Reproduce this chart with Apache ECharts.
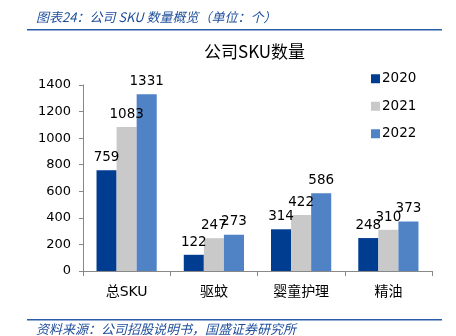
<!DOCTYPE html>
<html>
<head>
<meta charset="utf-8">
<script src="https://cdn.jsdelivr.net/npm/echarts@6/dist/echarts.min.js"></script>
<style>
html,body{margin:0;padding:0;background:#fff;}
#chart{width:456px;height:336px;}
</style>
</head>
<body>
<div id="chart"></div>
<script>
// SKU counts by product line, per year
const categories = ['总SKU', '驱蚊', '婴童护理', '精油'];
const years = ['2020', '2021', '2022'];
const sku2020 = [759, 122, 314, 248];
const sku2021 = [1083, 247, 422, 310];
const sku2022 = [1331, 273, 586, 373];
const yTicks = [0, 200, 400, 600, 800, 1000, 1200, 1400];

const colors = ['#003D91', '#C9C9C9', '#4F83C6'];
const font = '"DejaVu Sans", "Noto Sans CJK SC", sans-serif';
const seriesData = [sku2020, sku2021, sku2022];

const chart = echarts.init(document.getElementById('chart'));
chart.setOption({
  animation: false,
  backgroundColor: '#fff',
  title: {
    text: '公司SKU数量',
    left: 199, top: 38,
    textStyle: { fontSize: 17, fontWeight: 'normal', color: '#000', fontFamily: '"Noto Sans CJK SC", sans-serif' }
  },
  legend: {
    orient: 'vertical',
    left: 366, top: 67,
    itemWidth: 9, itemHeight: 9, itemGap: 14,
    icon: 'rect',
    textStyle: { fontSize: 13.5, color: '#000', fontFamily: font, padding: [0, 0, 0, -3] },
    data: years
  },
  grid: { left: 83, right: 24, top: 85, bottom: 65 },
  xAxis: {
    type: 'category',
    data: categories,
    axisLine: { lineStyle: { color: '#888' } },
    axisTick: { show: true, length: 5, lineStyle: { color: '#888' } },
    axisLabel: { fontSize: 14, color: '#000', margin: 14, fontFamily: font }
  },
  yAxis: {
    type: 'value',
    min: yTicks[0], max: yTicks[yTicks.length - 1], interval: 200,
    splitLine: { show: false },
    axisLine: { show: true, lineStyle: { color: '#888' } },
    axisTick: { show: true, length: 4, lineStyle: { color: '#888' } },
    axisLabel: { fontSize: 13, color: '#000', margin: 12, fontFamily: font, formatter: v => String(v) }
  },
  series: years.map((y, i) => ({
    name: y,
    type: 'bar',
    data: seriesData[i],
    barGap: '0%',
    barCategoryGap: '31%',
    itemStyle: { color: colors[i] },
    label: { show: true, position: 'top', fontSize: 13.5, color: '#000', fontFamily: font, distance: 6 }
  })),
  graphic: [
    { type: 'text', left: 36, top: 11, style: { text: '图表24：公司 SKU 数量概览（单位：个）', fill: '#1F4E9A', font: 'italic 13px "Noto Sans CJK SC", sans-serif' } },
    { type: 'rect', shape: { x: 27, y: 29, width: 415, height: 1.5 }, style: { fill: '#2A5CAA' } },
    { type: 'rect', shape: { x: 27, y: 319, width: 415, height: 1.5 }, style: { fill: '#2A5CAA' } },
    { type: 'text', left: 36, top: 323, style: { text: '资料来源：公司招股说明书，国盛证券研究所', fill: '#1F4E9A', font: 'italic 13px "Noto Sans CJK SC", sans-serif' } }
  ]
});
</script>
</body>
</html>
